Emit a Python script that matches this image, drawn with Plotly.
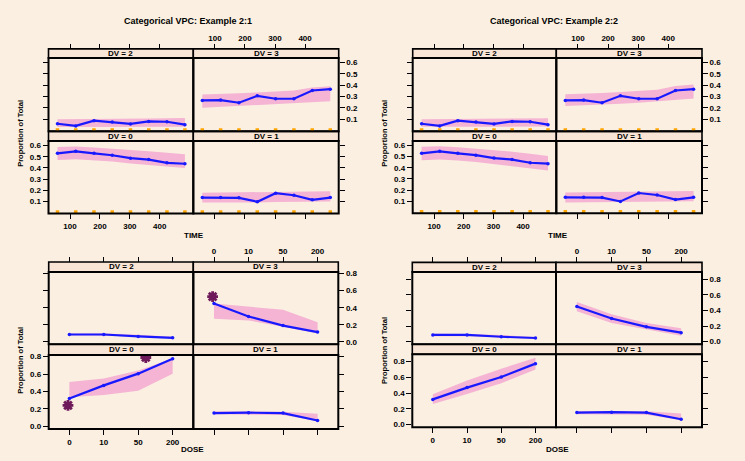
import plotly.graph_objects as go

W, H = 745, 461

# ---------------- data ----------------
time_x = [58, 119, 180, 241, 302, 363, 424, 484]
time_ticks = [100, 200, 300, 400]
dose_x = [1, 2, 3, 4]
dose_labels = ["0", "10", "50", "200"]
prop_ticks_time = [0.1, 0.2, 0.3, 0.4, 0.5, 0.6]
prop_ticks_dose = [0.0, 0.2, 0.4, 0.6, 0.8]
rug_y = [0.004] * 8

# TIME, observed median proportions (same in both examples)
time_dv0_obs = [0.530, 0.548, 0.530, 0.513, 0.487, 0.474, 0.445, 0.437]
time_dv1_obs = [0.134, 0.134, 0.132, 0.097, 0.173, 0.155, 0.114, 0.134]
time_dv2_obs = [0.059, 0.040, 0.086, 0.074, 0.058, 0.080, 0.077, 0.051]
time_dv3_obs = [0.265, 0.268, 0.245, 0.306, 0.280, 0.280, 0.353, 0.365]

# Example 2:1 TIME prediction intervals
ex1_time_dv0_lo = [0.470, 0.478, 0.470, 0.458, 0.440, 0.428, 0.410, 0.398]
ex1_time_dv0_hi = [0.588, 0.592, 0.582, 0.572, 0.560, 0.550, 0.535, 0.522]
ex1_time_dv1_lo = [0.090, 0.090, 0.090, 0.090, 0.095, 0.095, 0.100, 0.100]
ex1_time_dv1_hi = [0.178, 0.180, 0.180, 0.182, 0.185, 0.185, 0.190, 0.190]
ex1_time_dv2_lo = [0.030, 0.030, 0.030, 0.030, 0.030, 0.030, 0.032, 0.032]
ex1_time_dv2_hi = [0.100, 0.100, 0.102, 0.104, 0.105, 0.106, 0.108, 0.110]
ex1_time_dv3_lo = [0.200, 0.208, 0.215, 0.225, 0.232, 0.240, 0.250, 0.258]
ex1_time_dv3_hi = [0.318, 0.320, 0.328, 0.336, 0.344, 0.352, 0.380, 0.390]

# Example 2:2 TIME prediction intervals
ex2_time_dv0_lo = [0.468, 0.474, 0.466, 0.452, 0.432, 0.418, 0.396, 0.376]
ex2_time_dv0_hi = [0.590, 0.594, 0.584, 0.572, 0.558, 0.545, 0.525, 0.505]
ex2_time_dv1_lo = [0.088, 0.090, 0.090, 0.092, 0.094, 0.096, 0.098, 0.100]
ex2_time_dv1_hi = [0.178, 0.180, 0.182, 0.184, 0.186, 0.188, 0.190, 0.192]
ex2_time_dv2_lo = [0.032, 0.032, 0.032, 0.032, 0.032, 0.033, 0.034, 0.034]
ex2_time_dv2_hi = [0.098, 0.100, 0.102, 0.104, 0.105, 0.106, 0.108, 0.108]
ex2_time_dv3_lo = [0.215, 0.220, 0.228, 0.236, 0.244, 0.252, 0.268, 0.282]
ex2_time_dv3_hi = [0.320, 0.322, 0.330, 0.340, 0.350, 0.360, 0.392, 0.405]

# DOSE, observed proportions (same in both examples)
dose_dv0_obs = [0.320, 0.470, 0.605, 0.775]
dose_dv1_obs = [0.152, 0.157, 0.152, 0.067]
dose_dv2_obs = [0.085, 0.085, 0.062, 0.046]
dose_dv3_obs = [0.450, 0.297, 0.190, 0.114]

# Example 2:1 DOSE prediction intervals
ex1_dose_dv0_lo = [0.335, 0.360, 0.410, 0.605]
ex1_dose_dv0_hi = [0.510, 0.550, 0.640, 0.780]
ex1_dose_dv1_lo = [0.138, 0.136, 0.130, 0.060]
ex1_dose_dv1_hi = [0.172, 0.172, 0.168, 0.145]
ex1_dose_dv2_lo = [0.075, 0.072, 0.056, 0.040]
ex1_dose_dv2_hi = [0.096, 0.096, 0.082, 0.060]
ex1_dose_dv3_lo = [0.270, 0.250, 0.175, 0.100]
ex1_dose_dv3_hi = [0.450, 0.415, 0.375, 0.230]

# Example 2:1 DOSE outliers (stars)
ex1_star_dv0_x = [0.96, 3.22]
ex1_star_dv0_y = [0.240, 0.790]
ex1_star_dv3_x = [0.96]
ex1_star_dv3_y = [0.530]

# Example 2:2 DOSE prediction intervals
ex2_dose_dv0_lo = [0.260, 0.390, 0.525, 0.700]
ex2_dose_dv0_hi = [0.385, 0.560, 0.710, 0.850]
ex2_dose_dv1_lo = [0.130, 0.132, 0.125, 0.058]
ex2_dose_dv1_hi = [0.172, 0.174, 0.170, 0.140]
ex2_dose_dv2_lo = [0.070, 0.068, 0.052, 0.036]
ex2_dose_dv2_hi = [0.100, 0.098, 0.084, 0.060]
ex2_dose_dv3_lo = [0.390, 0.240, 0.160, 0.075]
ex2_dose_dv3_hi = [0.510, 0.350, 0.240, 0.170]

# ---------------- style ----------------
BG = "rgb(250,239,225)"
STRIP = "rgb(248,229,214)"
BAND = "rgb(245,180,211)"
BLUE = "rgb(25,25,255)"
ORANGE = "rgb(255,165,0)"
STAR = "rgb(110,25,90)"
FONT = "Liberation Sans"

fig = go.Figure()
layout = dict(
    width=W, height=H, margin=dict(l=0, r=0, t=0, b=0),
    paper_bgcolor=BG, plot_bgcolor=BG, showlegend=False,
    shapes=[], annotations=[],
)

def fx(x):
    return x / W

def fy(y):
    return 1 - y / H

ax_count = [0]

def tickfont():
    return dict(family=FONT, size=8, color="black", weight="bold")

def add_panel(geom, label, xside, xlabels, yside, ylabels, xcfg, ycfg, traces):
    ax_count[0] += 1
    n = ax_count[0]
    xk = "xaxis" if n == 1 else f"xaxis{n}"
    yk = "yaxis" if n == 1 else f"yaxis{n}"
    xr = "x" if n == 1 else f"x{n}"
    yr = "y" if n == 1 else f"y{n}"
    x0, x1, st, sb, pb = geom
    xa = dict(domain=[fx(x0), fx(x1)], range=xcfg["range"], tickvals=xcfg["vals"],
              ticktext=xcfg["text"], showgrid=False, zeroline=False, showline=False,
              ticks="outside", ticklen=5, tickwidth=1, tickcolor="black",
              showticklabels=xlabels, tickfont=tickfont(), side=xside)
    if xside == "top":
        xa.update(anchor="free", position=fy(st))
    else:
        xa.update(anchor=yr)
    ya = dict(domain=[fy(pb), fy(sb)], range=ycfg["range"], tickvals=ycfg["vals"],
              ticktext=ycfg["text"], showgrid=False, zeroline=False, showline=False,
              ticks="outside", ticklen=5, tickwidth=1, tickcolor="black",
              showticklabels=ylabels, tickfont=tickfont(), side=yside, anchor=xr)
    layout[xk] = xa
    layout[yk] = ya
    # strip
    layout["shapes"].append(dict(type="rect", xref="paper", yref="paper",
                                 x0=fx(x0), x1=fx(x1), y0=fy(sb), y1=fy(st),
                                 fillcolor=STRIP, line=dict(color="black", width=1.6),
                                 layer="below"))
    layout["annotations"].append(dict(xref="paper", yref="paper", x=fx((x0 + x1) / 2),
                                      y=fy((st + sb) / 2), text=label, showarrow=False,
                                      font=dict(family=FONT, size=8, color="black", weight="bold"),
                                      xanchor="center", yanchor="middle"))
    # panel border
    layout["shapes"].append(dict(type="rect", xref="paper", yref="paper",
                                 x0=fx(x0), x1=fx(x1), y0=fy(pb), y1=fy(sb),
                                 line=dict(color="black", width=2), layer="above"))
    for t in traces:
        t.update(xaxis=xr, yaxis=yr)
        fig.add_trace(t)

def band(x, lo, hi):
    return go.Scatter(x=list(x) + list(x)[::-1], y=list(hi) + list(lo)[::-1],
                      fill="toself", fillcolor=BAND, line=dict(width=0),
                      mode="lines", hoverinfo="skip")

def obs(x, y):
    return go.Scatter(x=x, y=y, mode="lines+markers", line=dict(color=BLUE, width=2.2),
                      marker=dict(color=BLUE, size=3.5))

def rug(x, y):
    return go.Scatter(x=x, y=y, mode="markers",
                      marker=dict(color=ORANGE, size=3.5, symbol="square"))

def stars(x, y):
    return go.Scatter(x=x, y=y, mode="markers",
                      marker=dict(symbol="asterisk-open", size=9, color=STAR,
                                  line=dict(color=STAR, width=2.8)))

time_xcfg = dict(range=[28, 512], vals=time_ticks, text=[str(v) for v in time_ticks])
time_ycfg = dict(range=[-0.008, 0.64], vals=prop_ticks_time,
                 text=[f"{v:.1f}" for v in prop_ticks_time])
dose_xcfg = dict(range=[0.4, 4.6], vals=dose_x, text=dose_labels)

def add_block(g, xcfg, ycfg, dv):
    xL, xM, xR, s1t, s1b, p1b, s2b, p2b = g
    add_panel((xL, xM, s1t, s1b, p1b), "DV = 2", "top", False, "left", False, xcfg, ycfg, dv[2])
    add_panel((xM, xR, s1t, s1b, p1b), "DV = 3", "top", True, "right", True, xcfg, ycfg, dv[3])
    add_panel((xL, xM, p1b, s2b, p2b), "DV = 0", "bottom", True, "left", True, xcfg, ycfg, dv[0])
    add_panel((xM, xR, p1b, s2b, p2b), "DV = 1", "bottom", False, "right", False, xcfg, ycfg, dv[1])

# Example 2:1, TIME
add_block((48.5, 193.3, 338.7, 47.3, 56.5, 130.5, 140.3, 213.3), time_xcfg, time_ycfg, {
    0: [band(time_x, ex1_time_dv0_lo, ex1_time_dv0_hi), obs(time_x, time_dv0_obs), rug(time_x, rug_y)],
    1: [band(time_x, ex1_time_dv1_lo, ex1_time_dv1_hi), obs(time_x, time_dv1_obs), rug(time_x, rug_y)],
    2: [band(time_x, ex1_time_dv2_lo, ex1_time_dv2_hi), obs(time_x, time_dv2_obs), rug(time_x, rug_y)],
    3: [band(time_x, ex1_time_dv3_lo, ex1_time_dv3_hi), obs(time_x, time_dv3_obs), rug(time_x, rug_y)],
})
# Example 2:2, TIME
add_block((412.7, 556.3, 702.0, 47.3, 56.5, 130.5, 140.3, 213.0), time_xcfg, time_ycfg, {
    0: [band(time_x, ex2_time_dv0_lo, ex2_time_dv0_hi), obs(time_x, time_dv0_obs), rug(time_x, rug_y)],
    1: [band(time_x, ex2_time_dv1_lo, ex2_time_dv1_hi), obs(time_x, time_dv1_obs), rug(time_x, rug_y)],
    2: [band(time_x, ex2_time_dv2_lo, ex2_time_dv2_hi), obs(time_x, time_dv2_obs), rug(time_x, rug_y)],
    3: [band(time_x, ex2_time_dv3_lo, ex2_time_dv3_hi), obs(time_x, time_dv3_obs), rug(time_x, rug_y)],
})
# Example 2:1, DOSE
dose_ycfg1 = dict(range=[-0.03, 0.82], vals=prop_ticks_dose, text=[f"{v:.1f}" for v in prop_ticks_dose])
add_block((48.7, 193.3, 338.3, 262.3, 272.3, 345.3, 356.0, 430.7), dose_xcfg, dose_ycfg1, {
    0: [band(dose_x, ex1_dose_dv0_lo, ex1_dose_dv0_hi), obs(dose_x, dose_dv0_obs), stars(ex1_star_dv0_x, ex1_star_dv0_y)],
    1: [band(dose_x, ex1_dose_dv1_lo, ex1_dose_dv1_hi), obs(dose_x, dose_dv1_obs)],
    2: [band(dose_x, ex1_dose_dv2_lo, ex1_dose_dv2_hi), obs(dose_x, dose_dv2_obs)],
    3: [band(dose_x, ex1_dose_dv3_lo, ex1_dose_dv3_hi), obs(dose_x, dose_dv3_obs), stars(ex1_star_dv3_x, ex1_star_dv3_y)],
})
# Example 2:2, DOSE
dose_ycfg2 = dict(range=[-0.035, 0.895], vals=prop_ticks_dose, text=[f"{v:.1f}" for v in prop_ticks_dose])
add_block((412.3, 556.0, 702.0, 262.7, 272.3, 345.3, 355.3, 429.0), dose_xcfg, dose_ycfg2, {
    0: [band(dose_x, ex2_dose_dv0_lo, ex2_dose_dv0_hi), obs(dose_x, dose_dv0_obs)],
    1: [band(dose_x, ex2_dose_dv1_lo, ex2_dose_dv1_hi), obs(dose_x, dose_dv1_obs)],
    2: [band(dose_x, ex2_dose_dv2_lo, ex2_dose_dv2_hi), obs(dose_x, dose_dv2_obs)],
    3: [band(dose_x, ex2_dose_dv3_lo, ex2_dose_dv3_hi), obs(dose_x, dose_dv3_obs)],
})

def text(x, y, s, size=8, angle=0):
    layout["annotations"].append(dict(xref="paper", yref="paper", x=fx(x), y=fy(y), text=s,
                                      showarrow=False, textangle=angle,
                                      font=dict(family=FONT, size=size, color="black", weight="bold"),
                                      xanchor="center", yanchor="middle"))

text(188, 19, "Categorical VPC: Example 2:1", size=9)
text(554, 19, "Categorical VPC: Example 2:2", size=9)
text(21, 133, "Proportion of Total", size=7.5, angle=-90)
text(385, 133, "Proportion of Total", size=7.5, angle=-90)
text(21, 362, "Proportion of Total", size=7.5, angle=-90)
text(385, 352, "Proportion of Total", size=7.5, angle=-90)
text(194, 236, "TIME")
text(558, 236, "TIME")
text(192, 451, "DOSE")
text(557, 451, "DOSE")

fig.update_layout(**layout)
fig.write_html("out.html")
